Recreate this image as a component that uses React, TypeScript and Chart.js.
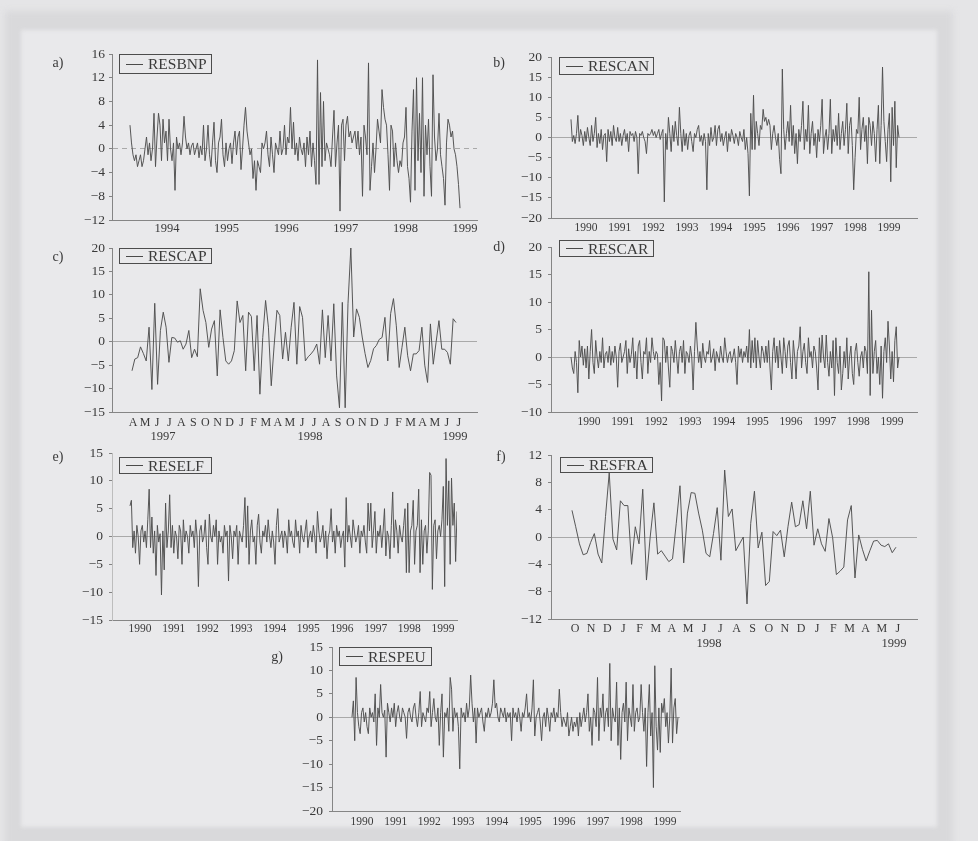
import React, { useEffect, useRef } from "react";
import { Chart, registerables } from "chart.js";

Chart.register(...registerables);

const SERIF = '"Liberation Serif", "DejaVu Serif", "Times New Roman", serif';
const TEXT = "#3a3a3a";
const LINE = "#4e4e4e";

// ---- residual series (weekly) ----
// a) RESBNP, mid 1993 - end 1998
const RESBNP = [
  4, 1, -1, -2, -1, -3, -2, -1, -3, -2,
  0, 2, -1, 1, -2, 0, 6, -3, 2, 6,
  4, -2, 5, 1, 3, -2, 5, 0, -2, 1,
  -7, 2, 0, 1, -1, 1, 5.5, 2, 0, 1,
  -1, 0.5, 1, -1, 0, 1, -1.5, 0.5, -1, 4,
  -2, 0, 4, -1, -3, 1, 4.5, -2, -4, 1,
  2, 5, -1, -3, 1, -2, 0, 1, -2.5, 1,
  3, -1, 2, 3, -3.5, 0, 4, 7, 3, 1,
  -1, 0, -5, -2, -7, -2, -3, -4, 1, 0,
  1, 3, -1, -3, 2, -1, -4, 1, 0, -1,
  3, -1, 0, 4, -1, 2, 1, 7, 0, 4.5,
  -1, 1, -2, 2, 0, -1, 1, -3, 2, -1,
  3, -3, 1, -2, -6, 15, -6, 9.5, -3, 8,
  -2, 1, 0, -1, -3, 2, 6.5, -3, 1, 4,
  -10.5, 4, 5, -2, 4, 5.5, 2, 3, 1, 2,
  3, 0, 3, -1, 2, -8, 4, 2, -1, 14.5,
  -7, -3, 1, -4, 0, 5, 3, 1, 10, 7,
  5, 4, -1, -7, 4, 3, -3, 1, -2, -4,
  -2, -3, 1, 2, 7, -3, -5, -9, 3, 10,
  -7, 12, -2, 6, -4, 12, -8, 4, -1, 5,
  -3, -8, 12.5, 2, -2, 0, 6, -1, -3, -5,
  -9.5, 1, 5, 4, 2, 3, 0, -1, -3, -6,
  -10,
];
const RESBNP_SPAN: [number, number] = [1993.379, 1998.916];

// b) RESCAN, mid 1989 - spring 1999
const RESCAN = [
  4.5, -1, 0.5, -1.5, 1, 5.5, -1, 2, 0.5, -2,
  1.5, -1, 2.5, 0, -2, 3, -1, 1, 5, -2.5,
  1, -1.5, 2, -3, 0.5, 1, -6, 2, -1, 1.5,
  -2, 3, 0, -1, 2.5, -1, 1, -2, 0.5, 2,
  -1, 1, -3.5, 1.5, 0.5, 1, -1, 1.5, 0, -9,
  1, 0.5, 1.5, 0, -1, -4, 1, 0.5, 1, 2,
  0.5, 1.5, 0, 1, 2, -0.5, 1, 2, -16, 1,
  -3, 5, 1, -3.5, 3, -1, 4, 0.5, -2, 7.5,
  1, -3.5, 2, -2, 1, -3, 0.5, 1.5, -1, -3.5,
  1, 0, 2, 3, -1, 0.5, -2, 1, -1, -13,
  1, -2, 2.5, -1, 0, 3, -2, 2, 3, -1,
  1, -2, 0, 1.5, -3.5, 1, -1, 2, 0.5, -1.5,
  1, 0, -2, 1.5, 0, -1, 2, -3, 0, -4,
  -14.5, 6, -3, 10.5, -3, 4, 1, -2, 3, 2,
  7, 4, 5, 3, 4.5, 3, -3, 1, 3, 0,
  -2, 1, -5.5, -9, 17, 2, -3, 1, 4, -1,
  8, -2, 3, -4, 1, -6.5, 2, -1, 3, 9,
  -3, 2, -1, 8, -4, 1, 4, -2, 1, -5,
  2, -1, 3, 9.5, -4, 0, 2, -3, 1, 9.5,
  -4, 2, -1, 3, -2, 6, -3, 1, 4, -2,
  2, 8.5, -4, 3, 5, -2, -13, -5, 2, 1,
  10, -3, 2, 5, -1, 3, -6.5, 5, 3, -2,
  4, 1, -6, 2, 8, -6.5, 3, 17.5, 4, -1,
  -6, 2, 6, -11, 7.5, -2, 9, -7.5, 3, 0,
];
const RESCAN_SPAN: [number, number] = [1989.554, 1999.297];

// c) RESCAP, Apr 1997 - Jul 1999 (x in months from Jan 1997)
const RESCAP = [
  -6.2, -3.7, -3.4, -1.1, -2.5, -4.1, 3.1, -10.2, 8.2, -9.1,
  2.4, 6.3, 3.1, -4.4, 0.9, 0.8, -0.1, 0.2, -1.6, -0.5,
  2.4, -3.4, -1.6, -3.2, 11.3, 6.7, 4.1, -1.2, 2.7, 4.5,
  -7.3, 6.8, 0.9, -4.1, -4.8, -4.1, -1.9, 8.7, 4.1, 5.6,
  -6.2, 6.3, 5.4, -6.2, 5.6, -11.2, 0.9, 8.8, 3.1, -9.4,
  -0.9, 6.7, 5.6, -3.7, 2.0, -4.1, 3.1, 8.4, -4.8, 7.5,
  5.2, -4.1, -3.2, -2.6, -1.8, -0.5, -4.8, 6.8, -3.4, 5.6,
  -4.1, 8.1, -7.3, -14.1, 8.4, -14.1, 8.1, 20, 1.0, 7.0,
  5.2, 1.0, -2.5, -5.5, -4.0, -1.5, -0.8, 0.5, 0.9, 5.2,
  -4.1, 6.0, 9.2, 3.4, -5.5, -1.2, 3.1, -3.0, -6.2, -2.6,
  -2.6, -1.9, 3.1, -5.0, -8.7, 3.8, -4.8, -0.1, 4.5, -1.6,
  -1.6, -2.3, -4.8, 4.9, 4.1,
];
const RESCAP_SPAN: [number, number] = [2.917, 29.76];

// d) RESCAR, mid 1989 - spring 1999
const RESCAR = [
  0, -2, -3, 1, -1, -6.5, 3, 0, 2, -1.5,
  1.5, -2, 2, -4, 1, 5, -1, -3, 3, 0,
  -2, 1, -1, 3.5, -2, 0.5, 1, -1, 2, -1.5,
  1, -1, 2, 0, -5.5, 1, 2.5, -1, 0, 1,
  3, -3, 1.5, -1, 0.5, 3.5, -2, 1, -4, 2,
  3, -1, -4, 1, 0.5, 3.5, -3, 1, -1, 3.5,
  1, -0.5, 1, 0.5, -5, -1, -8, 3.5, 3, -1,
  2, -2, -5.5, 2, 1, -1, 3, 0, -3, 1,
  2, -1, 3, -3, 1, 0.5, -1, 2, 0, -6,
  1, 6.3, 2, -1, 1, -2, 2.5, 0, -1, 1,
  0.5, 3, -1, 0, 1.5, -2.5, 1, 0, -1, 2,
  0, -1, 3.5, 1, -1, 0.5, 1, -1, 0, 1.5,
  -1, -5, 2, 0, 1.5, -1, 1, 0, 2, -1,
  5, -2, 3, -1, 3.5, -2, 3, 0, -2, 2,
  1, -1, 2, -1, 3, -2, -6, 1, 3.5, -1,
  2, -2, 3, 0, -3, 3.5, 1, -2, 2, 3,
  -1, -4, 3, 0, -4, 1, 2, 5.5, -2, 1,
  2.5, -1, -3, 3.5, 0, 1, -2, 2, 1, -2,
  -6, 3.5, -1, 4, 0, -2, 4, -1, -3.5, 1,
  -2, 3, -7, 3.5, -1, -3, 2, -6, -3, 1,
  -2, 3.5, -4, 0, 2, -3, -5, 1, 2.5, -1,
  -3.5, 0, 1, -2, 2, 1, -3, 15.5, -7, 8.5,
  -3, 1, 3, -3, 0, -5, 2, -7.5, 1, 3.5,
  -1, 6.5, 2, -4, 1, -4.5, 3, 5.5, -2, 0,
];
const RESCAR_SPAN: [number, number] = [1989.465, 1999.208];

// e) RESELF, mid 1989 - spring 1999
const RESELF = [
  5.5, 6.5, -2, 1, -3, 2, 0, -5, 1, 2,
  -1, 1, -2, 3, 8.5, -2, 3.5, -3, 1, -7,
  2, -1, 0.5, -10.5, 1, -6, 6, -2, 1, 7.5,
  -2, 2, -3, 1, 0, -4, 2, 1, -5, 3,
  -1, 1, 0, -3, 2, 0, 1, -2, 3, 0,
  -9, 1, 2, -1, 0, 3, -2, -5, 4, 0,
  -1, 2, 0, 3, -5, 1, -1, 0, -3, 2,
  0, 1, -8, 2, 0, -4, 1, 0, 2, -5,
  1, 0, -1, 2, 7, -2, 5.5, -5, 1, 3,
  -1, 0, -5, 2, 4, -1, -3, 1, 0, 2,
  -1, 3, 0, -2, 1, -1, -5, 2, 5, -1,
  0, 1, -2, 1, 0, -3, 3, 0, 1, -1,
  -2, 3, 0, 1, -3, 2, 0, -1, 1, 3,
  -2, 0, 1, -1, 2, 0, -3, 4.5, 1, -1,
  0, 2, -2, 1, -4, 0, 1, 5, -1, 1,
  -3, 2, 0, 1, -2, 0, 1, -5.5, 7, -1,
  2, 0, -2, 3, 1, -1, 0, 2, -3, 1,
  0, 2, -1, -3, 6, 1, 6, -2, 1, 4.5,
  -3, 1, 0, 2, -2, 1, 5, -3.5, 1, 0,
  -4, 2, 8, -2, 3, 1, -3, 2, 0, -1,
  2, 5, -6.5, 6, -6.5, 1, 2, 6.5, -5, 1,
  2, 8.5, -6.5, 3, -5, 1, 2, -3, 1, 11.5,
  11, -9.5, 2, 3, -4, 1, 2, 0, 3, 9,
  -9, 14, 2, 10, -5, 10.5, 2, 6, -4.5, 4.5,
];
const RESELF_SPAN: [number, number] = [1989.703, 1999.416];

// f) RESFRA, Oct 1997 - Jun 1999 (x in months from Jan 1997)
const RESFRA = [
  3.9, 1.5, -1.0, -2.6, -2.4, -0.8, 0.5, -2.5, -3.8, 3.0,
  9.4, -0.3, -1.9, 5.3, 4.6, 4.6, -4.0, 1.5, -1.0, 7.0,
  -6.3, 0, 5.0, -2.5, -2.0, -2.8, -3.6, -3.2, 2.0, 7.5,
  -3.8, 3.5, 6.5, 6.4, 3.5, 1.0, -2.4, -2.9, 0.5, 4.3,
  -3.4, 9.8, 3.0, 4.1, -2.0, -1.0, 0, -9.8, 2.0, 6.7,
  -1.6, 0.7, -7.1, -6.5, 0.8, 0.2, 1.0, -2.9, 1.5, 5.1,
  1.5, 1.8, 5.3, 1.2, 6.7, -1.2, 1.2, -1.0, -2.1, 2.7,
  -0.1, -5.5, -5.0, -4.4, 2.5, 4.6, -6.0, 0.3, -1.8, -3.5,
  -2.0, -0.6, -0.5, -1.2, -1.4, -1.0, -2.3, -1.5,
];
const RESFRA_SPAN: [number, number] = [8.814, 28.876];

// g) RESPEU, mid 1989 - spring 1999
const RESPEU = [
  0, 3.5, -5, 8.5, 1, -2, -3.5, 1, 2, -1,
  1, -2, -3.5, 2, 0, 1, -1, 5, -6, 2,
  0, 7, 1, 0, 1.5, -8.5, 3, 1, -1, 2,
  0, 3, -2, 1, 2.5, 0, -1, 2, 1, 0,
  -4.5, 1, 2, 0, -1, 2, 3, 0, -2, 1,
  5.5, -2, 1, 0, -1, 2, 1, 5.5, -2, 1,
  4, 0, -1, 2, -6, 1, 5, -8.5, 1, 0,
  2, -3, 8.5, 6, -3, 2, 0, 1, -2, -11,
  2, 0, 1, -1, 3, 0, 2, 9, 3, -1,
  2, -5.5, 2, 0, 1, 2, -1, -3, 1, 0,
  2, 0, 1, 3, 8, 2, 3, 0, -1, 2,
  1, 0, 2, -1, 1, 0, 1, -5, 2, 0,
  1, -1, 2, 0, -3, 1, 0, 2, 5, 0,
  1, -1, 2, 8, -4, 0, 1, 2, -1, -5,
  0, 1, -2, 2, 0, -3, 1, 0, 2, -1,
  1, 0, 6, 1, -2, 0, -1, -2, 1, -4,
  -2, 0, -3, -1, -2, 0, -4, 1, -2, 0,
  2, -1, 1, 5, -3, 0, -6, 2, 1, -2,
  8.5, -5, 2, 0, 5, -3, 1, 2, -2, 11.5,
  -5, 2, 0, -1, 7.5, -6, 2, -9, 1, 3,
  -1, 7.5, -5, 2, 0, -2, 7, -3, 1, 2,
  -1, 0, 7, 1, -3, 2, -10.5, 1, 7, -4,
  1, -15, 11, -2, -7, 2, -7.5, 3, 1, 4,
  -2, 1, -5.5, 0, 10.5, -5.5, 2, 4, -3.5, 0,
];
const RESPEU_SPAN: [number, number] = [1989.703, 1999.386];

// ---- axis labels ----
const YEARS_1994 = [1994, 1995, 1996, 1997, 1998, 1999];
const YEARS_1990 = [1990, 1991, 1992, 1993, 1994, 1995, 1996, 1997, 1998, 1999];
const MONTH_INITIALS = ["J", "F", "M", "A", "M", "J", "J", "A", "S", "O", "N", "D"];
const RESCAP_MONTHS = [3, 30]; // Apr 1997 .. Jul 1999
const RESFRA_MONTHS = [9, 29]; // Oct 1997 .. Jun 1999
const RESCAP_YEAR_MARKS = [
  { value: 5.49, label: "1997" },
  { value: 17.66, label: "1998" },
  { value: 29.68, label: "1999" },
];
const RESFRA_YEAR_MARKS = [
  { value: 17.3, label: "1998" },
  { value: 28.75, label: "1999" },
];

type Tick = { value: number; label: string };

const yearTicks = (ys: number[]): Tick[] => ys.map((y) => ({ value: y, label: String(y) }));
const monthTicks = ([a, b]: number[]): Tick[] => {
  const out: Tick[] = [];
  for (let m = a; m <= b; m++) out.push({ value: m, label: MONTH_INITIALS[m % 12] });
  return out;
};

interface PanelSpec {
  tag: string;
  tagPos: [number, number];
  name: string;
  legend: [number, number, number, number];
  area: [number, number, number, number]; // left, top, right, bottom of plot area
  y: [number, number, number];
  x: [number, number];
  ticks: Tick[];
  years?: Tick[];
  tickSize: number;
  tickPad: number;
  yPad: number;
  values: number[];
  span: [number, number];
  zeroDash?: number[];
  yAxisColor?: string;
}

const PANELS: PanelSpec[] = [
  {
    tag: "a)", tagPos: [58, 63], name: "RESBNP", legend: [119, 54, 93, 20],
    area: [112, 54, 477, 220], y: [-12, 16, 4], x: [1993.077, 1999.201],
    ticks: yearTicks(YEARS_1994), tickSize: 12.5, tickPad: 1, yPad: 4,
    values: RESBNP, span: RESBNP_SPAN, zeroDash: [5, 4],
  },
  {
    tag: "b)", tagPos: [499, 63], name: "RESCAN", legend: [559, 57, 95, 18],
    area: [551, 57, 917, 218], y: [-20, 20, 5], x: [1988.96, 1999.832],
    ticks: yearTicks(YEARS_1990), tickSize: 11.5, tickPad: 3, yPad: 6,
    values: RESCAN, span: RESCAN_SPAN,
  },
  {
    tag: "c)", tagPos: [58, 257], name: "RESCAP", legend: [119, 248, 93, 16],
    area: [112, 248, 477, 412], y: [-15, 20, 5], x: [1.26, 31.5],
    ticks: monthTicks(RESCAP_MONTHS), years: RESCAP_YEAR_MARKS, tickSize: 12, tickPad: 4, yPad: 4,
    values: RESCAP, span: RESCAP_SPAN,
  },
  {
    tag: "d)", tagPos: [499, 247], name: "RESCAR", legend: [559, 240, 95, 17],
    area: [551, 247, 917, 412], y: [-10, 20, 5], x: [1988.871, 1999.743],
    ticks: yearTicks(YEARS_1990), tickSize: 11.5, tickPad: 3, yPad: 6,
    values: RESCAR, span: RESCAR_SPAN,
  },
  {
    tag: "e)", tagPos: [58, 457], name: "RESELF", legend: [119, 457, 93, 17],
    area: [112, 453, 457, 620], y: [-15, 15, 5], x: [1989.168, 1999.416],
    ticks: yearTicks(YEARS_1990), tickSize: 11.5, tickPad: 2, yPad: 6,
    values: RESELF, span: RESELF_SPAN, yAxisColor: "#bdbdbd",
  },
  {
    tag: "f)", tagPos: [501, 457], name: "RESFRA", legend: [560, 457, 93, 16],
    area: [551, 455, 917, 619], y: [-12, 12, 4], x: [7.514, 30.18],
    ticks: monthTicks(RESFRA_MONTHS), years: RESFRA_YEAR_MARKS, tickSize: 12, tickPad: 3, yPad: 6,
    values: RESFRA, span: RESFRA_SPAN,
  },
  {
    tag: "g)", tagPos: [277, 657], name: "RESPEU", legend: [339, 647, 93, 19],
    area: [332, 647, 680, 811], y: [-20, 15, 5], x: [1989.109, 1999.446],
    ticks: yearTicks(YEARS_1990), tickSize: 11.5, tickPad: 4, yPad: 6,
    values: RESPEU, span: RESPEU_SPAN,
  },
];

const YW = 56;
const PT = 10;
const PR = 14;
const PB = 4;

function Panel({ spec }: { spec: PanelSpec }) {
  const ref = useRef<HTMLCanvasElement>(null);
  const [L, T, R, B] = spec.area;
  const xh = spec.years ? 14 : 24;
  const xh2 = spec.years ? 18 : 0;
  const width = R - L + YW + PR;
  const height = B - T + PT + xh + xh2 + PB;

  useEffect(() => {
    const n = spec.values.length;
    const [t0, t1] = spec.span;
    const points = spec.values.map((v, i) => ({ x: t0 + (i * (t1 - t0)) / (n - 1), y: v }));
    const axisColor = "#858585";
    const scales: any = {
      x: {
        type: "linear",
        position: "bottom",
        weight: 0,
        min: spec.x[0],
        max: spec.x[1],
        grid: { display: false, drawTicks: false },
        border: { display: true, color: axisColor, width: 1 },
        afterBuildTicks: (s: any) => {
          s.ticks = spec.ticks.map((t) => ({ value: t.value }));
        },
        afterFit: (s: any) => {
          s.height = xh;
          s.paddingLeft = 0;
          s.paddingRight = 0;
        },
        ticks: {
          autoSkip: false,
          maxRotation: 0,
          minRotation: 0,
          padding: spec.tickPad,
          color: TEXT,
          font: { family: SERIF, size: spec.tickSize },
          callback: (_v: any, i: number) => spec.ticks[i]?.label ?? "",
        },
      },
      y: {
        type: "linear",
        min: spec.y[0],
        max: spec.y[1],
        grid: {
          display: true,
          drawOnChartArea: true,
          drawTicks: true,
          tickLength: 3,
          tickColor: "#777",
          lineWidth: 0.9,
          color: (c: any) => (c.tick && c.tick.value === 0 ? "#a2a2a2" : "rgba(0,0,0,0)"),
        },
        border: { display: true, color: spec.yAxisColor ?? axisColor, width: 1, dash: spec.zeroDash },
        afterFit: (s: any) => {
          s.width = YW;
          s.paddingTop = 0;
          s.paddingBottom = 0;
        },
        ticks: {
          stepSize: spec.y[2],
          padding: spec.yPad,
          color: TEXT,
          font: { family: SERIF, size: 13.5 },
          callback: (v: any) => (Number(v) < 0 ? "\u2212" + Math.abs(Number(v)) : String(v)),
        },
      },
    };
    if (spec.years) {
      const marks = spec.years;
      scales.x2 = {
        type: "linear",
        position: "bottom",
        weight: 1,
        min: spec.x[0],
        max: spec.x[1],
        grid: { display: false, drawTicks: false },
        border: { display: false },
        afterBuildTicks: (s: any) => {
          s.ticks = marks.map((t) => ({ value: t.value }));
        },
        afterFit: (s: any) => {
          s.height = xh2;
          s.paddingLeft = 0;
          s.paddingRight = 0;
        },
        ticks: {
          autoSkip: false,
          maxRotation: 0,
          minRotation: 0,
          padding: 3,
          color: TEXT,
          font: { family: SERIF, size: 12.5 },
          callback: (_v: any, i: number) => marks[i]?.label ?? "",
        },
      };
    }
    const chart = new Chart(ref.current as HTMLCanvasElement, {
      type: "line",
      data: {
        datasets: [
          {
            label: spec.name,
            data: points,
            borderColor: LINE,
            borderWidth: 0.95,
            pointRadius: 0,
            tension: 0,
            fill: false,
          },
        ],
      },
      options: {
        animation: false,
        responsive: false,
        devicePixelRatio: 1,
        events: [],
        layout: { padding: { left: 0, top: PT, right: PR, bottom: PB } },
        plugins: { legend: { display: false }, tooltip: { enabled: false } },
        scales,
      },
    });
    return () => chart.destroy();
  }, []);

  const [lx, ly, lw, lh] = spec.legend;
  return (
    <>
      <canvas
        ref={ref}
        width={width}
        height={height}
        style={{ position: "absolute", left: L - YW, top: T - PT, width, height }}
      />
      <div
        style={{
          position: "absolute",
          left: spec.tagPos[0],
          top: spec.tagPos[1],
          transform: "translate(-50%, -50%)",
          fontFamily: SERIF,
          fontSize: 14,
          color: TEXT,
          lineHeight: 1,
        }}
      >
        {spec.tag}
      </div>
      <div
        style={{
          position: "absolute",
          left: lx,
          top: ly,
          width: lw,
          height: lh,
          boxSizing: "border-box",
          border: "1px solid #4c4c4c",
          display: "flex",
          alignItems: "center",
          fontFamily: SERIF,
          fontSize: 15.5,
          lineHeight: 1,
          color: TEXT,
          overflow: "hidden",
        }}
      >
        <span style={{ display: "inline-block", width: 17, borderTop: "1px solid #4a4a4a", margin: "0 5px 0 6px" }} />
        <span>{spec.name}</span>
      </div>
    </>
  );
}

export default function App() {
  return (
    <div
      style={{
        position: "absolute",
        left: 0,
        top: 0,
        width: 978,
        height: 841,
        overflow: "hidden",
        background: "#e5e5e7",
      }}
    >
      <div
        style={{
          position: "absolute",
          left: 5,
          top: 11,
          width: 948,
          height: 836,
          background: "#d9d9db",
          filter: "blur(3px)",
        }}
      />
      <div
        style={{
          position: "absolute",
          left: 21,
          top: 30,
          width: 916,
          height: 797,
          background: "#e9e9eb",
          filter: "blur(2px)",
        }}
      />
      {PANELS.map((p) => (
        <Panel key={p.name} spec={p} />
      ))}
    </div>
  );
}
